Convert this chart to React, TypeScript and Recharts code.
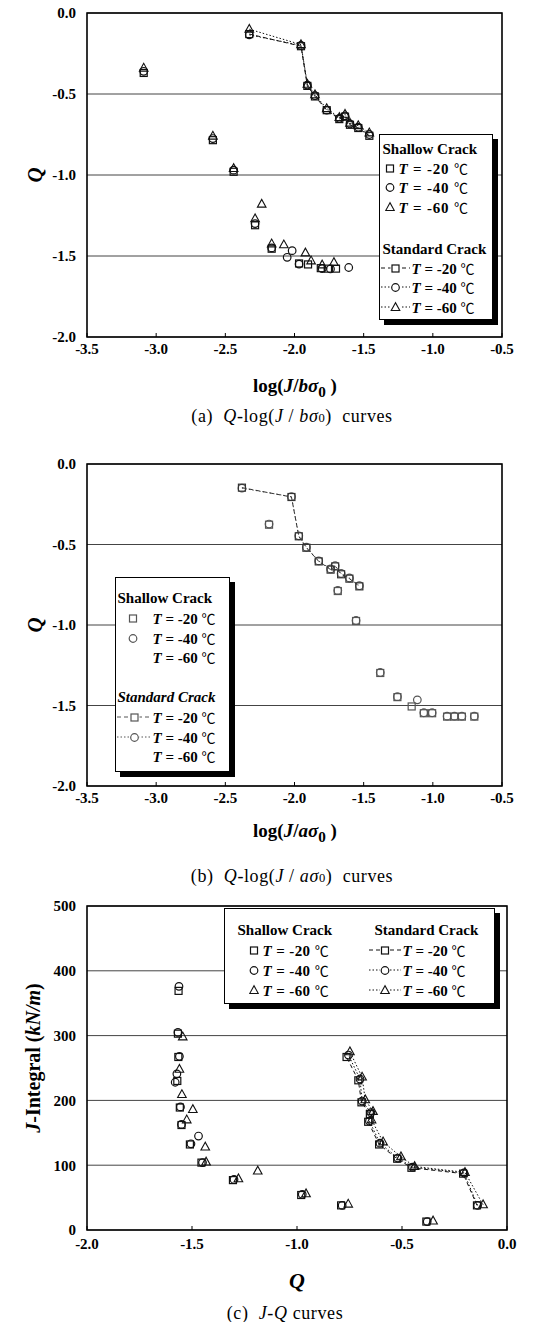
import React from "react";
import {
  ScatterChart,
  Scatter,
  XAxis,
  YAxis,
  CartesianGrid,
  ReferenceArea,
} from "recharts";

const SERIF = '"Liberation Serif", "Times New Roman", serif';

// ---- (a) Q vs log(J/b sigma0) ----
const aShallow20X = [-3.09, -2.59, -2.44, -2.285, -2.165, -1.967, -1.902, -1.81, -1.758, -1.7];
const aShallow20Q = [-0.37, -0.785, -0.98, -1.31, -1.455, -1.546, -1.552, -1.575, -1.578, -1.578];
const aShallow40X = [-3.09, -2.59, -2.44, -2.285, -2.165, -2.053, -2.017, -1.967, -1.8, -1.74, -1.608];
const aShallow40Q = [-0.36, -0.775, -0.97, -1.3, -1.45, -1.508, -1.467, -1.55, -1.578, -1.58, -1.571];
const aShallow60X = [-3.09, -2.59, -2.44, -2.285, -2.237, -2.165, -2.077, -1.921, -1.88, -1.8, -1.715];
const aShallow60Q = [-0.34, -0.76, -0.96, -1.27, -1.18, -1.425, -1.431, -1.481, -1.53, -1.555, -1.54];
const aStandardX = [-2.327, -1.953, -1.907, -1.852, -1.767, -1.676, -1.635, -1.599, -1.539, -1.459];
const aStandard20Q = [-0.13, -0.205, -0.45, -0.515, -0.6, -0.655, -0.64, -0.69, -0.71, -0.758];
const aStandard40Q = [-0.135, -0.2, -0.445, -0.51, -0.6, -0.65, -0.635, -0.685, -0.705, -0.75];
const aStandard60Q = [-0.1, -0.195, -0.44, -0.505, -0.59, -0.645, -0.625, -0.68, -0.695, -0.74];

// ---- (b) Q vs log(J/a sigma0) ----
const bShallow20X = [-2.184, -1.687, -1.555, -1.38, -1.256, -1.153, -1.065, -1.005, -0.897, -0.844, -0.79, -0.7];
const bShallow20Q = [-0.377, -0.789, -0.975, -1.298, -1.448, -1.506, -1.548, -1.548, -1.569, -1.569, -1.569, -1.569];
const bShallow40X = [-2.184, -1.687, -1.555, -1.38, -1.256, -1.112, -1.065, -1.005, -0.897, -0.844, -0.79, -0.7];
const bShallow40Q = [-0.373, -0.785, -0.972, -1.295, -1.445, -1.465, -1.545, -1.545, -1.566, -1.566, -1.566, -1.566];
const bStandardX = [-2.38, -2.022, -1.969, -1.914, -1.825, -1.739, -1.706, -1.663, -1.603, -1.531];
const bStandard20Q = [-0.147, -0.205, -0.449, -0.52, -0.605, -0.656, -0.636, -0.685, -0.712, -0.76];
const bStandard40Q = [-0.15, -0.203, -0.446, -0.517, -0.602, -0.652, -0.632, -0.68, -0.708, -0.756];

// ---- (c) J vs Q ----
const cShallow20Q = [-0.384, -0.79, -0.98, -1.305, -1.455, -1.51, -1.55, -1.558, -1.57, -1.565, -1.567, -1.564];
const cShallow20J = [13, 38, 54, 77, 104, 132, 162, 189, 230, 267, 303, 369];
const cShallow40Q = [-0.38, -0.785, -0.975, -1.3, -1.45, -1.505, -1.469, -1.55, -1.555, -1.58, -1.572, -1.56, -1.567, -1.562];
const cShallow40J = [13, 38, 55, 78, 104, 133, 145, 163, 190, 228, 241, 268, 305, 376];
const cShallow60Q = [-0.352, -0.756, -0.957, -1.279, -1.187, -1.433, -1.437, -1.525, -1.496, -1.548, -1.56, -1.544];
const cShallow60J = [14, 40, 56, 79, 91, 105, 128, 170, 186, 209, 248, 298];
const cStandard20Q = [-0.143, -0.209, -0.455, -0.523, -0.609, -0.661, -0.653, -0.693, -0.708, -0.764];
const cStandard20J = [38, 87, 96, 110, 132, 167, 179, 197, 231, 267];
const cStandard40Q = [-0.14, -0.205, -0.45, -0.52, -0.605, -0.655, -0.648, -0.69, -0.7, -0.755];
const cStandard40J = [38, 88, 97, 111, 134, 168, 181, 199, 233, 270];
const cStandard60Q = [-0.114, -0.2, -0.44, -0.505, -0.59, -0.645, -0.638, -0.675, -0.69, -0.748];
const cStandard60J = [39, 89, 98, 113, 136, 170, 183, 201, 236, 275];

const qTicks = [-2, -1.5, -1, -0.5, 0];
const logTicks = [-3.5, -3, -2.5, -2, -1.5, -1, -0.5];
const jTicks = [0, 100, 200, 300, 400, 500];
const cQTicks = [-2, -1.5, -1, -0.5, 0];

const DASHED = "4 3";
const DOTTED = "1.5 2";

type Kind = "square" | "circle" | "triangle";

interface SeriesDef {
  name: string;
  kind: Kind;
  xs: number[];
  ys: number[];
  dash?: string;
  color: string;
}

const zip = (xs: number[], ys: number[]) => xs.map((x, i) => ({ x, y: ys[i] }));

function Marker({ kind, cx, cy, color }: { kind: Kind; cx: number; cy: number; color: string }) {
  if (cx == null || cy == null) return null;
  if (kind === "square") {
    return <rect x={cx - 3.5} y={cy - 3.5} width={7} height={7} fill="none" stroke={color} strokeWidth={1.2} />;
  }
  if (kind === "circle") {
    return <circle cx={cx} cy={cy} r={3.8} fill="none" stroke={color} strokeWidth={1.2} />;
  }
  return (
    <polygon
      points={`${cx},${cy - 4.8} ${cx - 4.3},${cy + 3} ${cx + 4.3},${cy + 3}`}
      fill="none"
      stroke={color}
      strokeWidth={1.1}
    />
  );
}

const fmt1 = (v: number) => v.toFixed(1);
const fmt0 = (v: number) => String(v);

function Plot(props: {
  top: number;
  height: number;
  right: number;
  xDomain: [number, number];
  yDomain: [number, number];
  xTicks: number[];
  yTicks: number[];
  xFmt: (v: number) => string;
  yFmt: (v: number) => string;
  xTickMargin: number;
  series: SeriesDef[];
}) {
  const tickStyle = { fill: "#000", fontSize: 15, fontWeight: "bold", fontFamily: SERIF };
  return (
    <div style={{ position: "absolute", left: 0, top: props.top }}>
      <ScatterChart
        width={547}
        height={props.height}
        margin={{ top: 13, right: props.right, bottom: 0, left: 47 }}
      >
        <CartesianGrid vertical={false} stroke="#444" strokeWidth={1} />
        <XAxis
          type="number"
          dataKey="x"
          domain={props.xDomain}
          ticks={props.xTicks}
          tickFormatter={props.xFmt}
          allowDataOverflow
          height={26}
          tickSize={-4}
          tickMargin={props.xTickMargin}
          tickLine={{ stroke: "#000" }}
          axisLine={false}
          tick={tickStyle}
          interval={0}
        />
        <YAxis
          type="number"
          dataKey="y"
          domain={props.yDomain}
          ticks={props.yTicks}
          tickFormatter={props.yFmt}
          allowDataOverflow
          width={40}
          tickSize={0}
          tickMargin={11}
          tickLine={false}
          axisLine={false}
          tick={tickStyle}
          interval={0}
        />
        <ReferenceArea
          x1={props.xDomain[0]}
          x2={props.xDomain[1]}
          y1={props.yDomain[0]}
          y2={props.yDomain[1]}
          fill="none"
          fillOpacity={0}
          stroke="#000"
          strokeWidth={1.6}
        />
        {props.series.map((s) => (
          <Scatter
            key={s.name}
            name={s.name}
            data={zip(s.xs, s.ys)}
            isAnimationActive={false}
            line={s.dash ? { stroke: s.color, strokeWidth: 1, strokeDasharray: s.dash } : false}
            shape={(p: any) => <Marker kind={s.kind} cx={p.cx} cy={p.cy} color={s.color} />}
          />
        ))}
      </ScatterChart>
    </div>
  );
}

function LegendSymbol({ kind, dash, color, w }: { kind?: Kind; dash?: string; color: string; w: number }) {
  return (
    <svg width={w} height={12} style={{ display: "block", marginTop: 3 }}>
      {dash && <line x1={0} x2={w} y1={6} y2={6} stroke={color} strokeWidth={1} strokeDasharray={dash} />}
      {kind && (
        <g>
          <rect x={w / 2 - 5} y={1} width={10} height={10} fill="#fff" stroke="none" />
          <Marker kind={kind} cx={w / 2} cy={6.5} color={color} />
        </g>
      )}
    </svg>
  );
}

const Abs = ({ x, y, children, style }: { x: number; y: number; children: any; style?: any }) => (
  <div
    style={{
      position: "absolute",
      left: x,
      top: y - 9,
      height: 18,
      lineHeight: "18px",
      whiteSpace: "pre",
      ...style,
    }}
  >
    {children}
  </div>
);

const TLabel = ({ t, spacing }: { t: string; spacing: number }) => (
  <span style={{ fontWeight: "bold", fontSize: 15, letterSpacing: spacing }}>
    <i>T</i>
    {` = ${t} `}
    <span style={{ fontFamily: '"Noto Sans CJK SC", serif', fontWeight: "normal", fontSize: 14 }}>{"\u2103"}</span>
  </span>
);

function LegendBox({ x, y, w, h, children }: { x: number; y: number; w: number; h: number; children: any }) {
  return (
    <div
      style={{
        position: "absolute",
        left: x,
        top: y,
        width: w,
        height: h,
        border: "1.5px solid #000",
        boxShadow: "5px 5px 0 #000",
        background: "#fff",
        boxSizing: "border-box",
      }}
    >
      <div style={{ position: "relative", left: -x - 1.5, top: -y - 1.5 }}>{children}</div>
    </div>
  );
}

const Vertical = ({ x, y, children, size }: { x: number; y: number; children: any; size: number }) => (
  <div
    style={{
      position: "absolute",
      left: x,
      top: y,
      transform: "translate(-50%, -50%) rotate(-90deg)",
      whiteSpace: "nowrap",
      fontWeight: "bold",
      fontSize: size,
    }}
  >
    {children}
  </div>
);

const Centered = ({ x, y, children, style }: { x: number; y: number; children: any; style?: any }) => (
  <div
    style={{
      position: "absolute",
      left: x,
      top: y,
      transform: "translate(-50%, -50%)",
      whiteSpace: "pre",
      ...style,
    }}
  >
    {children}
  </div>
);

const BLACK = "#111";
const GREY = "#555";

export default function App() {
  const seriesA: SeriesDef[] = [
    { name: "as20", kind: "square", xs: aShallow20X, ys: aShallow20Q, color: BLACK },
    { name: "as40", kind: "circle", xs: aShallow40X, ys: aShallow40Q, color: BLACK },
    { name: "as60", kind: "triangle", xs: aShallow60X, ys: aShallow60Q, color: BLACK },
    { name: "ad20", kind: "square", xs: aStandardX, ys: aStandard20Q, dash: DASHED, color: BLACK },
    { name: "ad40", kind: "circle", xs: aStandardX, ys: aStandard40Q, dash: DOTTED, color: BLACK },
    { name: "ad60", kind: "triangle", xs: aStandardX, ys: aStandard60Q, dash: DOTTED, color: BLACK },
  ];
  const seriesB: SeriesDef[] = [
    { name: "bs20", kind: "square", xs: bShallow20X, ys: bShallow20Q, color: GREY },
    { name: "bs40", kind: "circle", xs: bShallow40X, ys: bShallow40Q, color: GREY },
    { name: "bd40", kind: "circle", xs: bStandardX, ys: bStandard40Q, dash: DOTTED, color: GREY },
    { name: "bd20", kind: "square", xs: bStandardX, ys: bStandard20Q, dash: DASHED, color: "#333" },
  ];
  const seriesC: SeriesDef[] = [
    { name: "cs20", kind: "square", xs: cShallow20Q, ys: cShallow20J, color: BLACK },
    { name: "cs40", kind: "circle", xs: cShallow40Q, ys: cShallow40J, color: BLACK },
    { name: "cs60", kind: "triangle", xs: cShallow60Q, ys: cShallow60J, color: BLACK },
    { name: "cd20", kind: "square", xs: cStandard20Q, ys: cStandard20J, dash: DASHED, color: BLACK },
    { name: "cd40", kind: "circle", xs: cStandard40Q, ys: cStandard40J, dash: DOTTED, color: BLACK },
    { name: "cd60", kind: "triangle", xs: cStandard60Q, ys: cStandard60J, dash: DOTTED, color: BLACK },
  ];

  const logTitle = (v: string) => (
    <span>
      log(<i>J</i>/<i>{v}σ</i>
      <sub style={{ fontSize: "0.8em" }}>0</sub> )
    </span>
  );
  const caption = (tag: string, v: string) => (
    <span>
      ({tag}){"  "}
      <i>Q</i>-log(<i>J</i> / <i>{v}σ</i>
      <span style={{ fontSize: "0.7em" }}>0</span>){"  "}curves
    </span>
  );

  const titleStyle = { fontWeight: "bold", fontSize: 15 };
  const capStyle = { fontSize: 18, letterSpacing: 0.6 };

  return (
    <div
      style={{
        position: "absolute",
        left: 0,
        top: 0,
        width: 547,
        height: 1322,
        background: "#fff",
        fontFamily: SERIF,
        color: "#000",
        overflow: "hidden",
      }}
    >
      {/* (a) */}
      <Plot
        top={0}
        height={363}
        right={45}
        xDomain={[-3.5, -0.5]}
        yDomain={[-2, 0]}
        xTicks={logTicks}
        yTicks={qTicks}
        xFmt={fmt1}
        yFmt={fmt1}
        xTickMargin={10}
        series={seriesA}
      />
      <LegendBox x={379} y={134} w={114} h={186}>
        <Abs x={383} y={149} style={titleStyle}>Shallow Crack</Abs>
        <Abs x={385} y={168}><LegendSymbol kind="square" color={BLACK} w={10} /></Abs>
        <Abs x={399} y={168}><TLabel t="-20" spacing={0.8} /></Abs>
        <Abs x={385} y={187}><LegendSymbol kind="circle" color={BLACK} w={10} /></Abs>
        <Abs x={399} y={187}><TLabel t="-40" spacing={0.8} /></Abs>
        <Abs x={385} y={207}><LegendSymbol kind="triangle" color={BLACK} w={10} /></Abs>
        <Abs x={399} y={207}><TLabel t="-60" spacing={0.8} /></Abs>
        <Abs x={383} y={249} style={titleStyle}>Standard Crack</Abs>
        <Abs x={381} y={268}><LegendSymbol kind="square" dash={DASHED} color={BLACK} w={29} /></Abs>
        <Abs x={412} y={268}><TLabel t="-20" spacing={0} /></Abs>
        <Abs x={381} y={287}><LegendSymbol kind="circle" dash={DOTTED} color={BLACK} w={29} /></Abs>
        <Abs x={412} y={287}><TLabel t="-40" spacing={0} /></Abs>
        <Abs x={381} y={307}><LegendSymbol kind="triangle" dash={DOTTED} color={BLACK} w={29} /></Abs>
        <Abs x={412} y={307}><TLabel t="-60" spacing={0} /></Abs>
      </LegendBox>
      <Vertical x={35} y={175} size={21}><i>Q</i></Vertical>
      <Centered x={295} y={388} style={{ fontWeight: "bold", fontSize: 19 }}>{logTitle("b")}</Centered>
      <Centered x={292} y={416} style={capStyle}>{caption("a", "b")}</Centered>

      {/* (b) */}
      <Plot
        top={451}
        height={361}
        right={45}
        xDomain={[-3.5, -0.5]}
        yDomain={[-2, 0]}
        xTicks={logTicks}
        yTicks={qTicks}
        xFmt={fmt1}
        yFmt={fmt1}
        xTickMargin={10}
        series={seriesB}
      />
      <LegendBox x={115} y={577} w={115} h={195}>
        <Abs x={118} y={598} style={titleStyle}>Shallow Crack</Abs>
        <Abs x={128} y={618}><LegendSymbol kind="square" color={GREY} w={10} /></Abs>
        <Abs x={153} y={618}><TLabel t="-20" spacing={0} /></Abs>
        <Abs x={128} y={638}><LegendSymbol kind="circle" color={GREY} w={10} /></Abs>
        <Abs x={153} y={638}><TLabel t="-40" spacing={0} /></Abs>
        <Abs x={153} y={657}><TLabel t="-60" spacing={0} /></Abs>
        <Abs x={118} y={697} style={{ ...titleStyle, fontStyle: "italic" }}>Standard Crack</Abs>
        <Abs x={117} y={717}><LegendSymbol kind="square" dash={DASHED} color={GREY} w={35} /></Abs>
        <Abs x={153} y={717}><TLabel t="-20" spacing={0} /></Abs>
        <Abs x={117} y={737}><LegendSymbol kind="circle" dash={DOTTED} color={GREY} w={35} /></Abs>
        <Abs x={153} y={737}><TLabel t="-40" spacing={0} /></Abs>
        <Abs x={153} y={756}><TLabel t="-60" spacing={0} /></Abs>
      </LegendBox>
      <Vertical x={35} y={625} size={21}><i>Q</i></Vertical>
      <Centered x={295} y={833} style={{ fontWeight: "bold", fontSize: 19 }}>{logTitle("a")}</Centered>
      <Centered x={292} y={876} style={capStyle}>{caption("b", "a")}</Centered>

      {/* (c) */}
      <Plot
        top={893}
        height={363}
        right={40}
        xDomain={[-2, 0]}
        yDomain={[0, 500]}
        xTicks={cQTicks}
        yTicks={jTicks}
        xFmt={fmt1}
        yFmt={fmt0}
        xTickMargin={12}
        series={seriesC}
      />
      <LegendBox x={224} y={908} w={271} h={96}>
        <Abs x={238} y={930} style={titleStyle}>Shallow Crack</Abs>
        <Abs x={375} y={930} style={titleStyle}>Standard Crack</Abs>
        <Abs x={249} y={950}><LegendSymbol kind="square" color={BLACK} w={10} /></Abs>
        <Abs x={263} y={950}><TLabel t="-20" spacing={0.4} /></Abs>
        <Abs x={249} y={970}><LegendSymbol kind="circle" color={BLACK} w={10} /></Abs>
        <Abs x={263} y={970}><TLabel t="-40" spacing={0.4} /></Abs>
        <Abs x={249} y={990}><LegendSymbol kind="triangle" color={BLACK} w={10} /></Abs>
        <Abs x={263} y={990}><TLabel t="-60" spacing={0.4} /></Abs>
        <Abs x={369} y={950}><LegendSymbol kind="square" dash={DASHED} color={BLACK} w={32} /></Abs>
        <Abs x={403} y={950}><TLabel t="-20" spacing={0} /></Abs>
        <Abs x={369} y={970}><LegendSymbol kind="circle" dash={DOTTED} color={BLACK} w={32} /></Abs>
        <Abs x={403} y={970}><TLabel t="-40" spacing={0} /></Abs>
        <Abs x={369} y={990}><LegendSymbol kind="triangle" dash={DOTTED} color={BLACK} w={32} /></Abs>
        <Abs x={403} y={990}><TLabel t="-60" spacing={0} /></Abs>
      </LegendBox>
      <Vertical x={33} y={1058} size={20}>
        <i>J</i>-Integral (<i>kN/m</i>)
      </Vertical>
      <Centered x={297} y={1281} style={{ fontWeight: "bold", fontSize: 22 }}><i>Q</i></Centered>
      <Centered x={285} y={1313} style={capStyle}>
        <span>
          (c){"  "}<i>J</i>-<i>Q</i>{" "}curves
        </span>
      </Centered>
    </div>
  );
}
